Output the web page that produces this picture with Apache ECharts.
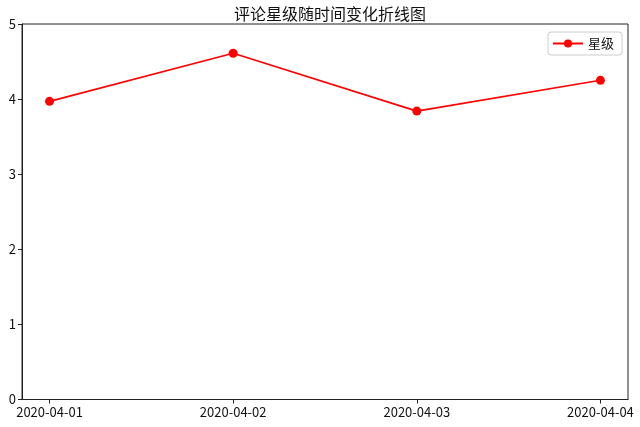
<!DOCTYPE html>
<html><head><meta charset="utf-8">
<script src="https://cdn.jsdelivr.net/npm/echarts@6/dist/echarts.min.js"></script>
<style>html,body{margin:0;padding:0;background:#fff}#c{width:640px;height:427px}</style>
</head><body><div id="c"></div>
<script>
const dates = ['2020-04-01', '2020-04-02', '2020-04-03', '2020-04-04'];
const stars = [3.97, 4.61, 3.84, 4.25];
const yTicks = [0, 1, 2, 3, 4, 5];
const seriesName = '星级';
const titleText = '评论星级随时间变化折线图';

const idx = dates.map((d, i) => i);
const font = '"Noto Sans CJK SC", "DejaVu Sans", sans-serif';
const chart = echarts.init(document.getElementById('c'));
chart.setOption({
  animation: false,
  backgroundColor: '#fff',
  title: { text: titleText, left: 325, textAlign: 'center', top: 1,
    textStyle: { fontFamily: font, fontSize: 16, fontWeight: 'normal', color: '#111' } },
  legend: { data: [seriesName], right: 18, top: 32, orient: 'vertical',
    itemWidth: 30, itemHeight: 10, itemGap: 6,
    padding: [5, 8, 5, 4], borderColor: '#ccc', borderWidth: 1, borderRadius: 3,
    backgroundColor: '#fff',
    textStyle: { fontFamily: font, fontSize: 13, color: '#111' } },
  grid: { left: 22, right: 12, top: 24, bottom: 27.5, show: true, borderColor: '#222', borderWidth: 1 },
  xAxis: { type: 'value', min: -0.15, max: 3.15,
    axisLine: { show: true, onZero: false, lineStyle: { color: '#222' } },
    splitLine: { show: false },
    axisTick: { show: true, customValues: idx, length: 4, lineStyle: { color: '#222' } },
    axisLabel: { customValues: idx, formatter: v => dates[Math.round(v)], margin: 6,
      fontFamily: font, fontSize: 13, color: '#111', showMinLabel: true, showMaxLabel: true } },
  yAxis: { type: 'value', min: 0, max: 5, interval: 1,
    axisLine: { show: true, onZero: false, lineStyle: { color: '#222' } },
    splitLine: { show: false },
    axisTick: { show: true, length: 4, lineStyle: { color: '#222' } },
    axisLabel: { fontFamily: font, fontSize: 13, color: '#111', margin: 6 } },
  series: [{
    name: seriesName, type: 'line',
    data: stars.map((v, i) => [idx[i], v]),
    symbol: 'circle', symbolSize: 9,
    lineStyle: { color: '#ff0000', width: 1.6 },
    itemStyle: { color: '#ff0000' }
  }]
});
</script></body></html>
